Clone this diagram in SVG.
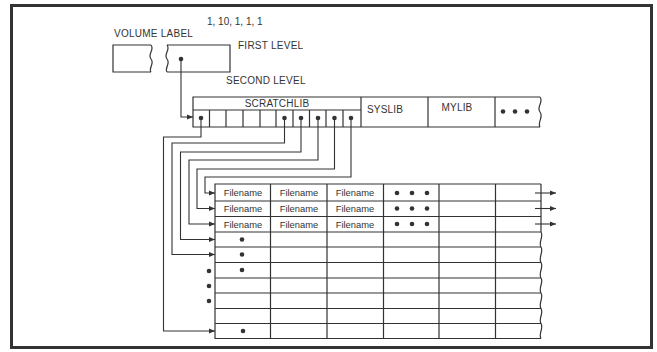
<svg xmlns="http://www.w3.org/2000/svg" width="657" height="352" viewBox="0 0 657 352">
<defs>
<style>
.t{font-family:"Liberation Sans",Arial,sans-serif;font-size:10px;fill:#333}
.f{font-family:"Liberation Sans",Arial,sans-serif;font-size:9.4px;fill:#333;text-anchor:middle}
.ln{fill:none;stroke:#333;stroke-width:1.2}
.c{fill:none;stroke:#333;stroke-width:1.1;marker-end:url(#ah)}
.d{fill:#333}
</style>
<marker id="ah" viewBox="0 0 6 6" refX="6" refY="3" markerWidth="6" markerHeight="6" markerUnits="userSpaceOnUse" orient="auto">
<path d="M0,0.6 L6,3 L0,5.4 Z" fill="#333"/>
</marker>
</defs>
<rect width="657" height="352" fill="#fff"/>
<rect x="11.5" y="5.5" width="640" height="342" fill="none" stroke="#333" stroke-width="3"/>

<text class="t" x="207" y="25">1, 10, 1, 1, 1</text>
<text class="t" x="114" y="37" style="letter-spacing:0.25px">VOLUME LABEL</text>
<text class="t" x="238" y="49" style="letter-spacing:0.25px">FIRST LEVEL</text>
<text class="t" x="226" y="84" style="letter-spacing:0.25px">SECOND LEVEL</text>

<g id="volume-label">
<path class="ln" d="M151,45 H113 V72 H151"/>
<path class="ln" d="M151,45 C155,50 147,54 151,59 C155,64 148,68 151,72"/>
</g>
<g id="first-level">
<path class="ln" d="M167,45 H230 V72 H167"/>
<path class="ln" d="M167,45 C171,50 163,54 167,59 C171,64 164,68 167,72"/>
<circle class="d" cx="181" cy="59" r="2.3"/>
</g>

<g id="directory">
<path class="ln" d="M540,97 H193 V127 H540"/>
<path class="ln" d="M540,97 C544,102 536,107 540,112 C544,117 537,122 540,127"/>
<path class="ln" d="M193,110 H361 M361,97 V127 M428,97 V127 M495,97 V127"/>
<path class="ln" d="M209.5,110 V127 M226,110 V127 M243,110 V127 M260,110 V127 M276,110 V127 M293,110 V127 M309.5,110 V127 M326,110 V127 M343,110 V127"/>
<text class="t" x="277" y="107" text-anchor="middle" style="letter-spacing:0.2px">SCRATCHLIB</text>
<text class="t" x="367" y="113" style="letter-spacing:0.2px">SYSLIB</text>
<text class="t" x="457" y="111" text-anchor="middle" style="letter-spacing:0.2px">MYLIB</text>
<circle class="d" cx="503" cy="111.5" r="2.3"/>
<circle class="d" cx="515" cy="111.5" r="2.3"/>
<circle class="d" cx="527" cy="111.5" r="2.3"/>
<circle class="d" cx="201" cy="118" r="2.3"/>
<circle class="d" cx="284.5" cy="118" r="2.3"/>
<circle class="d" cx="301" cy="118" r="2.3"/>
<circle class="d" cx="318" cy="118" r="2.3"/>
<circle class="d" cx="334.5" cy="118" r="2.3"/>
<circle class="d" cx="351" cy="118" r="2.3"/>
</g>

<g id="file-table">
<path class="ln" d="M541,184 H215 V338.5 H541"/>
<path class="ln" d="M215,201 H541 M215,216.5 H541 M215,232 H541 M215,247 H541 M215,262.5 H541 M215,278 H541 M215,293 H541 M215,308.5 H541 M215,323.5 H541"/>
<path class="ln" d="M270.5,184 V338.5 M327,184 V338.5 M383.5,184 V338.5 M439,184 V338.5 M495.5,184 V338.5"/>
<path class="ln" d="M541,184 V232 C544,236 538,243 541,247 C544,251 538,258 541,262.5 C544,267 538,273 541,278 C544,282 538,288 541,293 C544,297 538,304 541,308.5 C544,313 538,319 541,323.5 C544,328 538,334 541,338.5"/>
<text class="f" x="243" y="196">Filename</text>
<text class="f" x="299" y="196">Filename</text>
<text class="f" x="355" y="196">Filename</text>
<text class="f" x="243" y="212">Filename</text>
<text class="f" x="299" y="212">Filename</text>
<text class="f" x="355" y="212">Filename</text>
<text class="f" x="243" y="227.5">Filename</text>
<text class="f" x="299" y="227.5">Filename</text>
<text class="f" x="355" y="227.5">Filename</text>
<circle class="d" cx="397" cy="193" r="2.3"/><circle class="d" cx="412" cy="193" r="2.3"/><circle class="d" cx="427" cy="193" r="2.3"/>
<circle class="d" cx="397" cy="208.5" r="2.3"/><circle class="d" cx="412" cy="208.5" r="2.3"/><circle class="d" cx="427" cy="208.5" r="2.3"/>
<circle class="d" cx="397" cy="224" r="2.3"/><circle class="d" cx="412" cy="224" r="2.3"/><circle class="d" cx="427" cy="224" r="2.3"/>
<circle class="d" cx="242" cy="239.5" r="2.3"/>
<circle class="d" cx="242" cy="254.5" r="2.3"/>
<circle class="d" cx="242" cy="270" r="2.3"/>
<circle class="d" cx="243" cy="331" r="2.3"/>
<circle class="d" cx="209" cy="271" r="2.3"/>
<circle class="d" cx="209" cy="286" r="2.3"/>
<circle class="d" cx="209" cy="301" r="2.3"/>
</g>

<g id="connectors">
<path class="c" d="M181,59 V117 H193"/>
<path class="c" d="M201,118 V137 H163.5 V331 H215"/>
<path class="c" d="M284.5,118 V143 H172 V254.5 H215"/>
<path class="c" d="M301,118 V152 H180.5 V239.5 H215"/>
<path class="c" d="M318,118 V160 H189 V224 H215"/>
<path class="c" d="M334.5,118 V169 H197 V208.5 H215"/>
<path class="c" d="M351,118 V177 H205 V193 H215"/>
<path class="c" d="M535,193 H556"/>
<path class="c" d="M535,208.5 H556"/>
<path class="c" d="M535,224 H556"/>
</g>
</svg>
